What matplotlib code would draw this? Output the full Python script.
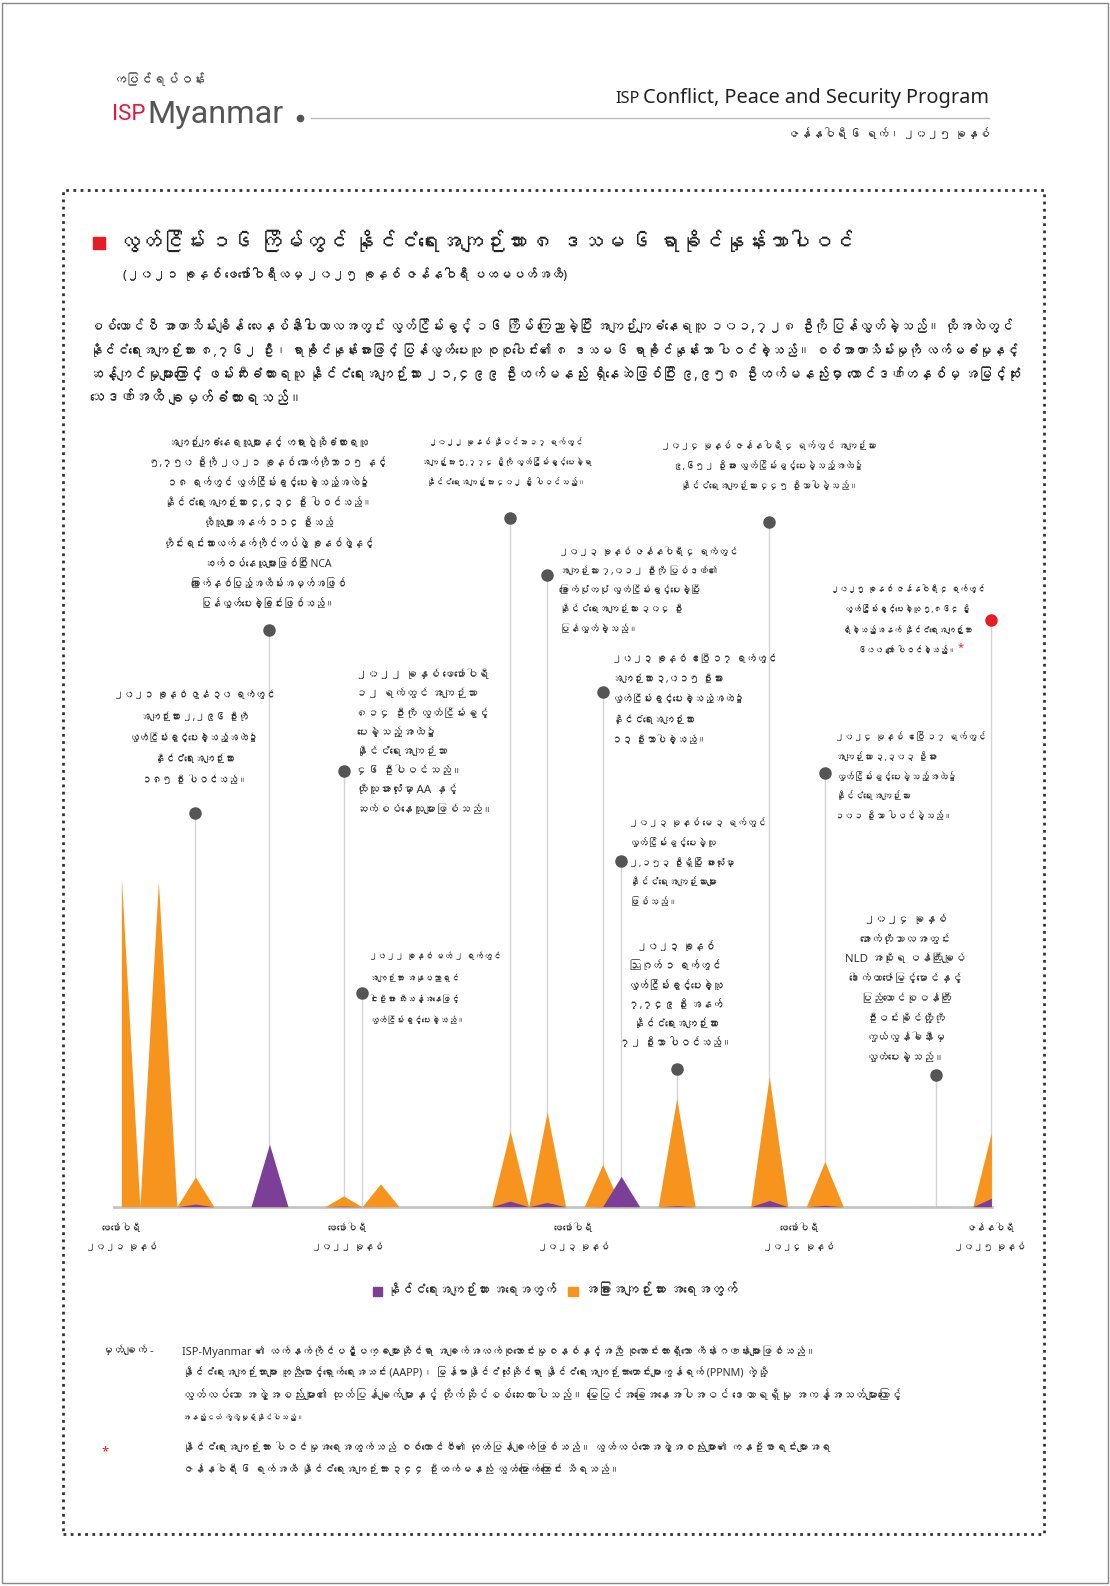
import matplotlib
matplotlib.use('Agg')
import matplotlib.pyplot as plt
from matplotlib import font_manager
from matplotlib.ft2font import FT2Font
from matplotlib.patches import Rectangle
import numpy as np

# find the installed families that carry Myanmar glyphs
mm_families = []
for f in font_manager.fontManager.ttflist:
    try:
        if 0x1000 in FT2Font(f.fname).get_charmap() and f.name not in mm_families:
            mm_families.append(f.name)
    except Exception:
        pass
FAMILY = ['Noto Sans'] + mm_families + ['DejaVu Sans']
plt.rcParams['font.family'] = FAMILY
installed = {f.name for f in font_manager.fontManager.ttflist}
NARROW = 'Liberation Sans Narrow' if 'Liberation Sans Narrow' in installed else 'Roboto'

W, H = 1110, 1586
K = 1.0115           # layout below is measured on a 0.989-scaled view of the page
ORANGE = '#F7941D'
PURPLE = '#7B3F98'
RED = '#E31E24'
TXT = '#333333'

# ---- data: 16 amnesties, months counted from Feb 2021 ----
release_month = [0, 2, 4, 8, 12, 13, 14, 21, 23, 26, 27, 30, 35, 38, 44, 47]
total_released = [23314, 23047, 2296, 5750, 814, 5, 1619, 5774, 7012, 3015, 2153, 7749, 9652, 3303, 2, 5864]
political_released = [0, 0, 185, 4434, 46, 5, 0, 402, 304, 13, 2153, 72, 445, 101, 2, 600]
n_months = 48

tick_pos = [0, 12.2, 24.4, 36.6, 46.9]
tick_labels = ['ဖေဖော်ဝါရီ\n၂၀၂၁ ခုနှစ်', 'ဖေဖော်ဝါရီ\n၂၀၂၂ ခုနှစ်', 'ဖေဖော်ဝါရီ\n၂၀၂၃ ခုနှစ်',
               'ဖေဖော်ဝါရီ\n၂၀၂၄ ခုနှစ်', 'ဇန်နဝါရီ\n၂၀၂၅ ခုနှစ်']

months = np.arange(n_months)
political = np.zeros(n_months)
other = np.zeros(n_months)
for m, t, p in zip(release_month, total_released, political_released):
    political[m] = p
    other[m] = t - p


def px(x):
    return x * K / W


def py(y):
    return 1 - y * K / H


def fs(pix):
    return pix * 0.72


fig = plt.figure(figsize=(W / 100, H / 100), dpi=100)
renderer = fig.canvas.get_renderer()


def width_of(t):
    return t.get_window_extent(renderer).width / K


def put(x, y, s, size, **kw):
    kw.setdefault('color', TXT)
    kw.setdefault('va', 'center')
    return fig.text(px(x), py(y), s, fontsize=fs(size), **kw)


def fit(texts, target):
    w = max(width_of(t) for t in texts)
    for t in texts:
        t.set_fontsize(t.get_fontsize() * target / w)


def runs_line(x, y, line, size, target=None):
    # line with **bold** segments, laid out left to right
    def draw(sz):
        out, cur = [], x
        gap = sz * 0.27
        for i, part in enumerate(line.split('**')):
            if not part:
                continue
            if part.startswith(' '):
                cur += gap
            s = part.strip()
            if s:
                t = put(cur, y, s, sz, fontweight='bold' if i % 2 else 'normal', color='#222222')
                out.append(t)
                cur += width_of(t)
            if part.endswith(' '):
                cur += gap
        return out, cur - x
    texts, w = draw(size)
    if target:
        for t in texts:
            t.remove()
        texts, w = draw(size * target / w)
    return texts


# page frame
fig.patches.append(Rectangle((0.002, 0.002), 0.996, 0.996, transform=fig.transFigure,
                             fill=False, ec='#888888', lw=1))

# ---- header ----
fit([put(112, 79, 'ကပြင်ရပ်ဝန်း', 14, color='#555555')], 92)
isp = put(111, 113, 'ISP', 30, color='#E5173F', family=[NARROW, 'DejaVu Sans'])
fit([isp], 33)
mya = put(146, 113, 'Myanmar', 30, color='#555555', family=['Roboto', 'DejaVu Sans'])
fit([mya], 135)
fig.add_artist(plt.Line2D([px(297)], [py(117)], marker='o', ms=4.5, color='#555555'))
fig.add_artist(plt.Line2D([px(307), px(978)], [py(117), py(117)], color='#bbbbbb', lw=1))
fit([put(978, 97, 'Conflict, Peace and Security Program', 19, ha='right', color='#222222')], 341)
fit([put(632, 98, 'ISP', 14, ha='right', color='#222222')], 24)
fit([put(978, 133, 'ဇန်နဝါရီ ၆ ရက်၊ ၂၀၂၅ ခုနှစ်', 14, ha='right')], 200)

# dotted frame
fig.patches.append(Rectangle((px(62), py(1517)), px(1032 - 62), (1517 - 188) * K / H,
                             transform=fig.transFigure, fill=False, ec='#333333',
                             lw=2, ls=(0, (1, 1.6))))

# ---- title ----
fig.patches.append(Rectangle((px(92), py(246)), px(12), 12 * K / H, transform=fig.transFigure,
                             color=RED))
fit([put(117, 240, 'လွတ်ငြိမ်း ၁၆ ကြိမ်တွင် နိုင်ငံရေးအကျဉ်းသား ၈ ဒသမ ၆ ရာခိုင်နှုန်းသာပါဝင်',
         22, color='#222222')], 726)
fit([put(122, 272, '(၂၀၂၁ ခုနှစ် ဖေဖော်ဝါရီလမှ ၂၀၂၅ ခုနှစ် ဇန်နဝါရီ ပထမပတ်အထိ)',
         14, color='#222222')], 440)

para = [
    'စစ်ကောင်စီ အာဏာသိမ်းချိန် လေးနှစ်နီးပါးကာလအတွင်း လွတ်ငြိမ်းခွင့် **၁၆ ကြိမ်** ကြေညာခဲ့ပြီး အကျဉ်းကျခံနေရသူ **၁၀၁,၇၂၈ ဦး**ကို ပြန်လွှတ်ခဲ့သည်။ ထိုအထဲတွင်',
    'နိုင်ငံရေးအကျဉ်းသား **၈,၇၆၂ ဦး**၊ ရာခိုင်နှုန်းအားဖြင့် ပြန်လွှတ်ပေးသူ စုစုပေါင်း၏ **၈ ဒသမ ၆ ရာခိုင်နှုန်း**သာ ပါဝင်ခဲ့သည်။ စစ်အာဏာသိမ်းမှုကို လက်မခံမှုနှင့်',
    'ဆန့်ကျင်မှုများကြောင့် ဖမ်းဆီးခံထားရသူ နိုင်ငံရေးအကျဉ်းသား **၂၁,၄၉၉ ဦးထက်မနည်း** ရှိနေဆဲဖြစ်ပြီး **၉,၉၅၈ ဦးထက်မနည်း**မှာ **ထောင်ဒဏ်တနှစ်မှ အမြင့်ဆုံး**',
    '**သေဒဏ်အထိ** ချမှတ်ခံထားရသည်။',
]
para_w = [917, 917, 917, 212]
for i, line in enumerate(para):
    runs_line(88, 324 + i * 23.5, line, 13, para_w[i])

# ---- chart ----
ax_top, ax_bot, ax_l, ax_r = 420, 1193, 113, 981
ax = fig.add_axes([px(ax_l), py(ax_bot), px(ax_r - ax_l), (ax_bot - ax_top) * K / H])
per_px = (1193 - 868) / max(other)
ax.set_ylim(0, (ax_bot - ax_top) / per_px)
ax.set_xlim((ax_l - 120) / 18.3, (ax_r - 120) / 18.3)
ax.patch.set_alpha(0)
for s in ['top', 'right', 'left']:
    ax.spines[s].set_visible(False)
ax.spines['bottom'].set_color('#c4c4c4')
ax.spines['bottom'].set_linewidth(2)
ax.set_yticks([])
ax.set_xticks(tick_pos)
ax.set_xticklabels(tick_labels, fontsize=fs(12), color=TXT, linespacing=2.1)
ax.tick_params(axis='x', length=0, pad=12)
fit(ax.get_xticklabels(), 70)

ax.fill_between(months, other, color=ORANGE, lw=0, zorder=3)
ax.fill_between(months, political, color=PURPLE, lw=0, zorder=4)

# annotations: (month, dot y, text x, first line y, line pitch, align, width, lines)
notes = [
    (4, 804, 192, 688, 21, 'center', 148,
     ['၂၀၂၁ ခုနှစ် ဇွန် ၃၀ ရက်တွင်', 'အကျဉ်းသား ၂,၂၉၆ ဦးကို', 'လွတ်ငြိမ်းခွင့်ပေးခဲ့သည့်အထဲ၌',
      'နိုင်ငံရေးအကျဉ်းသား', '၁၈၅ ဦး ပါဝင်သည်။']),
    (8, 623, 265, 438, 20, 'center', 220,
     ['အကျဉ်းကျခံနေရသူများနှင့် တရားစွဲဆိုခံထားရသူ', '၅,၇၅၀ ဦးကို ၂၀၂၁ ခုနှစ် အောက်တိုဘာ ၁၅ နှင့်',
      '၁၈ ရက်တွင် လွတ်ငြိမ်းခွင့်ပေးခဲ့သည့်အထဲ၌', 'နိုင်ငံရေးအကျဉ်းသား ၄,၄၃၄ ဦး ပါဝင်သည်။',
      'ထိုသူများအနက် ၁၁၄ ဦးသည်', 'တိုင်းရင်းသားလက်နက်ကိုင်တပ်ဖွဲ့ ခုနစ်ဖွဲ့နှင့်',
      'ဆက်စပ်နေသူများဖြစ်ပြီး NCA', 'ခြောက်နှစ်ပြည့်အထိမ်းအမှတ်အဖြစ်', 'ပြန်လွှတ်ပေးခဲ့ခြင်းဖြစ်သည်။']),
    (12, 762, 352, 668, 19, 'left', 128,
     ['၂၀၂၂ ခုနှစ် ဖေဖော်ဝါရီ', '၁၂ ရက်တွင် အကျဉ်းသား', '၈၁၄ ဦးကို လွတ်ငြိမ်းခွင့်',
      'ပေးခဲ့သည့်အထဲ၌', 'နိုင်ငံရေးအကျဉ်းသား', '၄၆ ဦးပါဝင်သည်။', 'ထိုသူအားလုံးမှာ AA နှင့်',
      'ဆက်စပ်နေသူများဖြစ်သည်။']),
    (13, 982, 365, 946, 21, 'left', 122,
     ['၂၀၂၂ ခုနှစ် မတ် ၂ ရက်တွင်', 'အကျဉ်းသား အနုပညာရှင်', 'ငါးဦးအား သီးသန့်အနေဖြင့်',
      'လွတ်ငြိမ်းခွင့်ပေးခဲ့သည်။']),
    (21, 512, 500, 437, 20, 'center', 157,
     ['၂၀၂၂ ခုနှစ် နိုဝင်ဘာ ၁၇ ရက်တွင်', 'အကျဉ်းသား ၅,၇၇၄ ဦးကို လွတ်ငြိမ်းခွင့်ပေးခဲ့ရာ',
      'နိုင်ငံရေးအကျဉ်းသား ၄၀၂ ဦး ပါဝင်သည်။']),
    (23, 568, 553, 546, 19, 'left', 165,
     ['၂၀၂၃ ခုနှစ် ဇန်နဝါရီ ၄ ရက်တွင်', 'အကျဉ်းသား ၇,၀၁၂ ဦးကို ပြစ်ဒဏ်၏',
      'ခြောက်ပုံတပုံ လွတ်ငြိမ်းခွင့်ပေးခဲ့ပြီး', 'နိုင်ငံရေးအကျဉ်းသား ၃၀၄ ဦး', 'ပြန်လွှတ်ခဲ့သည်။']),
    (26, 684, 605, 652, 20, 'left', 152,
     ['၂၀၂၃ ခုနှစ် ဧပြီ ၁၇ ရက်တွင်', 'အကျဉ်းသား ၃,၀၁၅ ဦးအား', 'လွတ်ငြိမ်းခွင့်ပေးခဲ့သည့်အထဲ၌',
      'နိုင်ငံရေးအကျဉ်းသား', '၁၃ ဦးသာပါခဲ့သည်။']),
    (27, 851, 622, 814, 19.5, 'left', 126,
     ['၂၀၂၃ ခုနှစ် မေ ၃ ရက်တွင်', 'လွတ်ငြိမ်းခွင့်ပေးခဲ့သူ', '၂,၁၅၃ ဦးရှိပြီး အားလုံးမှာ',
      'နိုင်ငံရေးအကျဉ်းသားများ', 'ဖြစ်သည်။']),
    (30, 1057, 668, 937, 19, 'center', 103,
     ['၂၀၂၃ ခုနှစ်', 'ဩဂုတ် ၁ ရက်တွင်', 'လွတ်ငြိမ်းခွင့်ပေးခဲ့သူ', '၇,၇၄၉ ဦး အနက်',
      'နိုင်ငံရေးအကျဉ်းသား', '၇၂ ဦးသာ ပါဝင်သည်။']),
    (35, 516, 760, 441, 20, 'center', 199,
     ['၂၀၂၄ ခုနှစ် ဇန်နဝါရီ ၄ ရက်တွင် အကျဉ်းသား', '၉,၆၅၂ ဦးအား လွတ်ငြိမ်းခွင့်ပေးခဲ့သည့်အထဲ၌',
      'နိုင်ငံရေးအကျဉ်းသား ၄၄၅ ဦးသာပါခဲ့သည်။']),
    (38, 764, 826, 729, 19.5, 'left', 139,
     ['၂၀၂၄ ခုနှစ် ဧပြီ ၁၇ ရက်တွင်', 'အကျဉ်းသား ၃,၃၀၃ ဦးအား', 'လွတ်ငြိမ်းခွင့်ပေးခဲ့သည့်အထဲ၌',
      'နိုင်ငံရေးအကျဉ်းသား', '၁၀၁ ဦးသာ ပါဝင်ခဲ့သည်။']),
    (44, 1063, 895, 910, 19.5, 'center', 111,
     ['၂၀၂၄ ခုနှစ်', 'အောက်တိုဘာလအတွင်း', 'NLD အစိုးရ ဝန်ကြီးချုပ်', 'ဒေါက်တာဇော်မြင့်မောင်နှင့်',
      'ပြည်ထောင်စုဝန်ကြီး', 'ဦးဝင်းခိုင်တို့ကို', 'ကွယ်လွန်ခါနီးမှ', 'လွှတ်ပေးခဲ့သည်။']),
    (47, 613, 897, 583, 20, 'center', 142,
     ['၂၀၂၅ ခုနှစ် ဇန်နဝါရီ ၄ ရက်တွင်', 'လွတ်ငြိမ်းခွင့်ပေးခဲ့သူ ၅,၈၆၄ ဦး',
      'ရှိခဲ့သည့်အနက် နိုင်ငံရေးအကျဉ်းသား', '၆၀၀ ကျော် ပါဝင်ခဲ့သည်။']),
]


def afrac(y):
    return (ax_bot - y) / (ax_bot - ax_top)


for m, dot_y, tx, ty, pitch, ha, tw, lines in notes:
    col = RED if m == 47 else '#555555'
    ax.plot([m, m], [0, afrac(dot_y)], transform=ax.get_xaxis_transform(),
            color='#d4d4d4', lw=1, zorder=1, clip_on=False)
    ax.plot([m], [afrac(dot_y)], 'o', ms=8, color=col, transform=ax.get_xaxis_transform(),
            zorder=5, clip_on=False)
    block = [put(tx, ty + i * pitch, s, 12, ha=ha) for i, s in enumerate(lines)]
    fit(block, tw * 1.07)
    if m == 47:
        last = block[-1]
        right = last.get_window_extent(renderer).x1 / K
        put(right + 1, ty + (len(lines) - 1) * pitch - 3, '*', 11, color=RED)

# ---- legend ----
fig.patches.append(Rectangle((px(369), py(1281)), px(9), 9 * K / H, transform=fig.transFigure, color=PURPLE))
fit([put(383, 1276, 'နိုင်ငံရေးအကျဉ်းသား အရေအတွက်', 12)], 168)
fig.patches.append(Rectangle((px(562), py(1281)), px(9), 9 * K / H, transform=fig.transFigure, color=ORANGE))
fit([put(577, 1276, 'အခြားအကျဉ်းသား အရေအတွက်', 12)], 152)

# ---- notes ----
fit([put(100, 1336, 'မှတ်ချက် -', 12)], 52)
note_lines = [
    'ISP-Myanmar ၏ လက်နက်ကိုင်ပဋိပက္ခများဆိုင်ရာ အချက်အလက်စုဆောင်းမှုစနစ်နှင့်အညီ စုဆောင်းထားရှိသော ကိန်းဂဏန်းများဖြစ်သည်။',
    'နိုင်ငံရေးအကျဉ်းသားများ ကူညီစောင့်ရှောက်ရေးအသင်း (AAPP)၊ မြန်မာနိုင်ငံလုံးဆိုင်ရာ နိုင်ငံရေးအကျဉ်းသားဟောင်းများကွန်ရက် (PPNM) ကဲ့သို့',
    'လွတ်လပ်သော အဖွဲ့အစည်းများ၏ ထုတ်ပြန်ချက်များနှင့် တိုက်ဆိုင်စစ်ဆေးထားပါသည်။ မြေပြင်အခြေအနေအပါအဝင် ဒေတာရရှိမှု အကန့်အသတ်များကြောင့်',
    'အနည်းငယ် ကွဲလွဲမှုရှိနိုင်ပါသည်။',
]
note_w = [628, 583, 710, 120]
for i, line in enumerate(note_lines):
    fit([put(180, 1336 + i * 22, line, 11)], note_w[i])
put(100, 1435, '*', 13, color=RED)
star_lines = [
    'နိုင်ငံရေးအကျဉ်းသား ပါဝင်မှုအရေအတွက်သည် စစ်ကောင်စီ၏ ထုတ်ပြန်ချက်ဖြစ်သည်။ လွတ်လပ်သောအဖွဲ့အစည်းများ၏ ကနဦးစာရင်းများအရ',
    'ဇန်နဝါရီ ၆ ရက်အထိ နိုင်ငံရေးအကျဉ်းသား ၃၄၄ ဦးထက်မနည်း လွတ်မြောက်ကြောင်း သိရသည်။',
]
star_w = [638, 432]
for i, line in enumerate(star_lines):
    fit([put(180, 1432 + i * 22, line, 11)], star_w[i])

fig.savefig('out.png', dpi=100, facecolor='white')
